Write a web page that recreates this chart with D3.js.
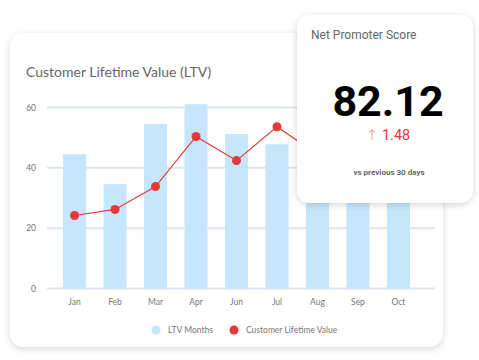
<!DOCTYPE html>
<html><head><meta charset="utf-8">
<script src="https://cdn.jsdelivr.net/npm/d3@7"></script>
<style>
html,body{margin:0;padding:0;background:#fff;}
svg{display:block;}
</style></head>
<body>
<svg id="c" width="479" height="360"></svg>
<script>
const months = ["Jan","Feb","Mar","Apr","Jun","Jul","Aug","Sep","Oct"];
const ltvMonths = [44.5, 34.6, 54.5, 61.1, 51.2, 47.8, 44, 48, 42];
const ltvValue = [24.2, 26.2, 33.8, 50.4, 42.4, 53.6, 44.5, 47, 56];
const yTicks = [0, 20, 40, 60];
const npsTitle = "Net Promoter Score";
const npsValue = "82.12";
const npsArrow = "\u2191";
const npsDelta = "1.48";
const npsNote = "vs previous 30 days";
const legendLabels = ["LTV Months", "Customer Lifetime Value"];

const svg = d3.select("#c");
const defs = svg.append("defs");
const f = defs.append("filter").attr("id","sh").attr("x","-20%").attr("y","-20%").attr("width","140%").attr("height","140%");
f.append("feDropShadow").attr("dx",0).attr("dy",2).attr("stdDeviation",3.5).attr("flood-color","#000").attr("flood-opacity",0.16);

// main card
svg.append("rect").attr("x",10).attr("y",33).attr("width",433).attr("height",314)
  .attr("rx",14).attr("fill","#fff").attr("filter","url(#sh)");

svg.append("text").attr("x",26).attr("y",77).text("Customer Lifetime Value (LTV)")
  .attr("font-family","Lato").attr("font-size",14).attr("fill","#666");

const x = d3.scaleBand().domain(months).range([47,426]).paddingInner(0.43).paddingOuter(0.395);
const y = d3.scaleLinear().domain([0,60]).range([288.5,107.5]);

// grid
const g = svg.append("g");
g.selectAll("line.grid").data(yTicks).join("line")
  .attr("x1",47).attr("x2",435).attr("y1",d=>y(d)).attr("y2",d=>y(d))
  .attr("stroke","#dfe5ec").attr("stroke-width",2);
g.selectAll("text.yl").data(yTicks).join("text")
  .attr("x",36).attr("y",d=>y(d)+3).attr("text-anchor","end").text(d=>d)
  .attr("font-family","Lato").attr("font-size",8.5).attr("fill","#777");

// bars
g.selectAll("rect.bar").data(months).join("rect")
  .attr("x",d=>x(d)).attr("width",x.bandwidth())
  .attr("y",(d,i)=>y(ltvMonths[i])).attr("height",(d,i)=>y(0)-y(ltvMonths[i]))
  .attr("fill","#c6e6fc");

// x labels
g.selectAll("text.xl").data(months).join("text")
  .attr("x",d=>x(d)+x.bandwidth()/2).attr("y",305).attr("text-anchor","middle").text(d=>d)
  .attr("font-family","Lato").attr("font-size",8.5).attr("fill","#777");

// line
const cx = (d,i)=>x(months[i])+x.bandwidth()/2;
g.append("path").datum(ltvValue)
  .attr("d", d3.line().x(cx).y(d=>y(d)))
  .attr("fill","none").attr("stroke","#e53935").attr("stroke-width",1.2);
g.selectAll("circle.pt").data(ltvValue).join("circle")
  .attr("cx",cx).attr("cy",d=>y(d)).attr("r",4.5).attr("fill","#e53935");

// legend
const lg = svg.append("g");
lg.append("circle").attr("cx",156).attr("cy",330).attr("r",4.5).attr("fill","#c6e6fc");
lg.append("text").attr("x",168).attr("y",333).text(legendLabels[0])
  .attr("font-family","Lato").attr("font-size",8.5).attr("fill","#777");
lg.append("circle").attr("cx",234).attr("cy",330).attr("r",4.5).attr("fill","#e53935");
lg.append("text").attr("x",246).attr("y",333).text(legendLabels[1])
  .attr("font-family","Lato").attr("font-size",8.5).attr("fill","#777");

// NPS card
const n = svg.append("g");
n.append("rect").attr("x",297).attr("y",15).attr("width",176).attr("height",188)
  .attr("rx",13).attr("fill","#fff").attr("filter","url(#sh)");
n.append("text").attr("x",311).attr("y",39).text(npsTitle)
  .attr("font-family","Roboto").attr("font-size",12).attr("fill","#666");
n.append("text").attr("x",388).attr("y",116).attr("text-anchor","middle").text(npsValue)
  .attr("font-family","Roboto").attr("font-weight","bold").attr("font-size",43).attr("fill","#000");
const dt = n.append("text").attr("x",388).attr("y",140).attr("text-anchor","middle")
  .attr("font-family","Roboto").attr("font-size",14.5).attr("fill","#e53935");
dt.append("tspan").attr("font-family","DejaVu Sans").attr("font-weight","200").attr("fill","#ef7a78").text(npsArrow);
dt.append("tspan").attr("dx",4).text(npsDelta);
n.append("text").attr("x",389).attr("y",175).attr("text-anchor","middle").text(npsNote)
  .attr("font-family","Roboto").attr("font-weight","bold").attr("font-size",8).attr("fill","#666");
</script>
</body></html>
